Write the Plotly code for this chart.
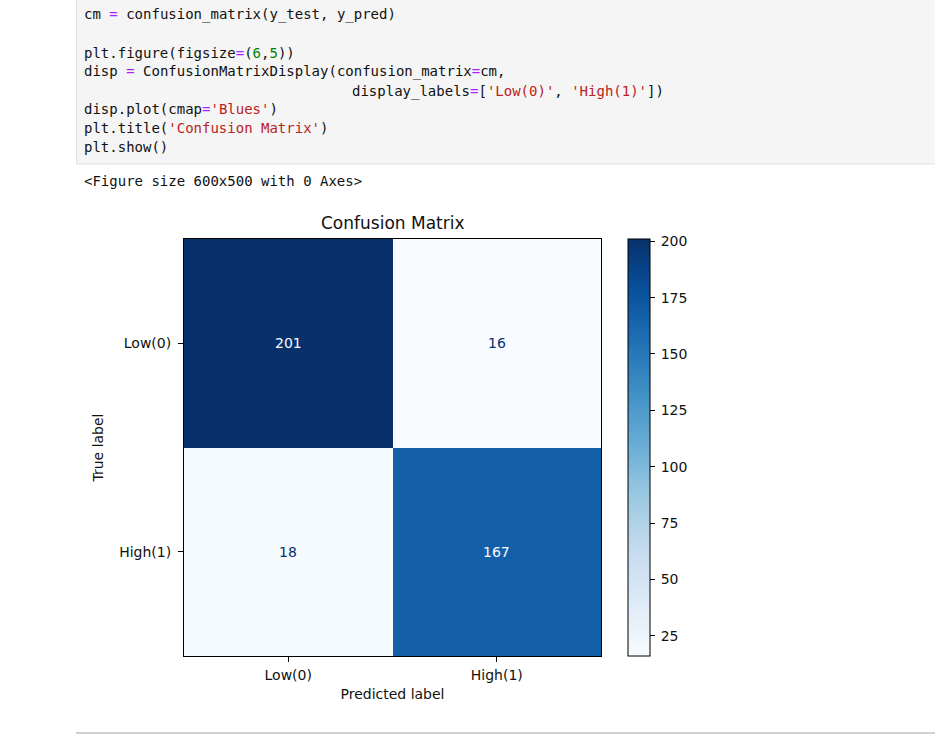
import plotly.graph_objects as go

# ---- data ----
labels = ["Low(0)", "High(1)"]
cm = [[201, 16],
      [18, 167]]
cbar_ticks = [25, 50, 75, 100, 125, 150, 175, 200]

blues = ["#f7fbff", "#deebf7", "#c6dbef", "#9ecae1", "#6baed6",
         "#4292c6", "#2171b5", "#08519c", "#08306b"]
colorscale = [[i / (len(blues) - 1), c] for i, c in enumerate(blues)]

W, H = 935, 735
zmin = min(min(r) for r in cm)
zmax = max(max(r) for r in cm)
thr = (zmin + zmax) / 2

# plot area in pixels
L, R, T, B = 184, 601, 239, 656
def px(x): return x / W
def py(y): return 1 - y / H

pad = '<span style="color:rgba(0,0,0,0);font-size:8px">-</span>'
fig = go.Figure()
fig.add_trace(go.Heatmap(
    z=cm, x=labels, y=labels, zmin=zmin, zmax=zmax,
    colorscale=colorscale, xgap=0, ygap=0, hoverinfo="z",
    colorbar=dict(
        x=px(628), xanchor="left", xpad=0, ypad=0,
        y=(py(B) + py(T)) / 2, yanchor="middle",
        len=(B - T) / H, lenmode="fraction",
        thickness=22, thicknessmode="pixels",
        outlinecolor="black", outlinewidth=1,
        tickvals=cbar_ticks, ticktext=[pad + str(t) for t in cbar_ticks],
        ticks="outside", ticklen=5, tickwidth=1, tickcolor="black",
        tickfont=dict(family="DejaVu Sans", size=14, color="#111"),
    ),
))

# cell value labels
for i, row_lab in enumerate(labels):
    for j, col_lab in enumerate(labels):
        v = cm[i][j]
        fig.add_annotation(
            x=col_lab, y=row_lab, xref="x", yref="y", text=str(v),
            showarrow=False,
            font=dict(family="DejaVu Sans", size=14,
                      color=blues[0] if v > thr else blues[-1]),
        )

axis_common = dict(showline=True, mirror=True, linecolor="black", linewidth=1,
                   ticks="outside", ticklen=5, tickcolor="black",
                   tickfont=dict(family="DejaVu Sans", size=14, color="#111"),
                   showgrid=False, zeroline=False)
fig.update_xaxes(domain=[px(L), px(R)], **axis_common, ticklabelstandoff=1,
                 title=dict(text="Predicted label", standoff=7,
                            font=dict(family="DejaVu Sans", size=14, color="#111")))
fig.update_yaxes(domain=[py(B), py(T)], autorange="reversed", **axis_common,
                 ticklabelstandoff=4,
                 title=dict(text="True label", standoff=12,
                            font=dict(family="DejaVu Sans", size=14, color="#111")))

# title
fig.add_annotation(x=(px(L) + px(R)) / 2, y=py(223), xref="paper", yref="paper",
                   text="Confusion Matrix", showarrow=False, yanchor="middle",
                   font=dict(family="DejaVu Sans", size=17, color="#111"))

# ---- notebook cell chrome ----
fig.add_shape(type="rect", xref="paper", yref="paper",
              x0=px(76), x1=1.01, y0=py(164), y1=1.01,
              fillcolor="#f5f5f5", line=dict(width=0), layer="below")
fig.add_shape(type="line", xref="paper", yref="paper",
              x0=px(76.5), x1=px(76.5), y0=py(164), y1=1.01,
              line=dict(color="#e0e0e0", width=1))
fig.add_shape(type="line", xref="paper", yref="paper",
              x0=px(76), x1=1.01, y0=py(164), y1=py(164),
              line=dict(color="#e0e0e0", width=1))
fig.add_shape(type="line", xref="paper", yref="paper",
              x0=px(76), x1=1.01, y0=py(733), y1=py(733),
              line=dict(color="#d0d0d0", width=2))

OP = '<span style="color:#aa22ff">=</span>'
def S(s): return f'<span style="color:#ba2121">{s}</span>'
def N(s): return f'<span style="color:#008000">{s}</span>'

code_lines = [
    (82, 14, f"cm {OP} confusion_matrix(y_test, y_pred)"),
    (82, 53, f"plt.figure(figsize{OP}({N('6')},{N('5')}))"),
    (82, 72, f"disp {OP} ConfusionMatrixDisplay(confusion_matrix{OP}cm,"),
    (350, 91, f"display_labels{OP}[{S(chr(39) + 'Low(0)' + chr(39))}, {S(chr(39) + 'High(1)' + chr(39))}])"),
    (82, 109, f"disp.plot(cmap{OP}{S(chr(39) + 'Blues' + chr(39))})"),
    (82, 128, f"plt.title({S(chr(39) + 'Confusion Matrix' + chr(39))})"),
    (82, 147, "plt.show()"),
    (82, 181, "&lt;Figure size 600x500 with 0 Axes&gt;"),
]
for x, y, t in code_lines:
    fig.add_annotation(x=px(x), y=py(y), xref="paper", yref="paper", text=t,
                       showarrow=False, xanchor="left", yanchor="middle",
                       font=dict(family="DejaVu Sans Mono", size=14, color="#111"))

fig.update_layout(width=W, height=H, margin=dict(l=0, r=0, t=0, b=0),
                  paper_bgcolor="white", plot_bgcolor="white", showlegend=False)

fig.write_html("out.html")
